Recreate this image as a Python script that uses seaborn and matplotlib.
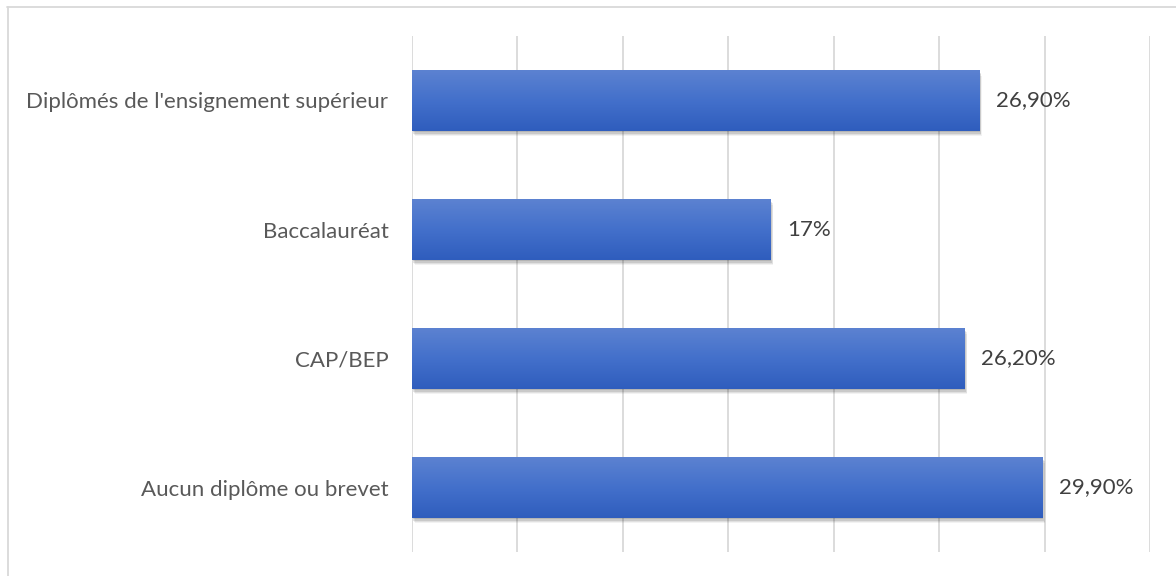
import numpy as np
import pandas as pd
import matplotlib
matplotlib.use("Agg")
import matplotlib.pyplot as plt
import matplotlib.patheffects as pe
from matplotlib.lines import Line2D
import seaborn as sns

# Niveau de diplôme et part correspondante (%)
categories = [
    "Diplômés de l'ensignement supérieur",
    "Baccalauréat",
    "CAP/BEP",
    "Aucun diplôme ou brevet",
]
values = [26.9, 17.0, 26.2, 29.9]
value_labels = ["26,90%", "17%", "26,20%", "29,90%"]

df = pd.DataFrame({"diplome": categories, "part": values})

sns.set_theme(style="white")
plt.rcParams["font.family"] = ["Lato", "DejaVu Sans"]

axis_text_color = "#595959"
value_text_color = "#404040"
grid_color = "#d9d9d9"
font_size = 16

fig = plt.figure(figsize=(11.76, 5.76), dpi=100)
ax = fig.add_axes([412 / 1176, 1 - 552 / 576, (1150 - 412) / 1176, (552 - 36) / 576])

sns.barplot(data=df, x="part", y="diplome", orient="h", color="#4472c4",
            width=0.47, ax=ax, zorder=3)

ax.set_xlim(0, 35)
ax.set_ylim(3.5, -0.5)
ax.set_xticks(np.arange(0, 36, 5))
ax.xaxis.grid(True, color=grid_color, linewidth=1.3, zorder=0)
ax.yaxis.grid(False)
ax.set_xticklabels([])
ax.tick_params(axis="x", length=0)
ax.tick_params(axis="y", length=0, pad=17, labelsize=font_size, labelcolor=axis_text_color)
ax.set_xlabel("")
ax.set_ylabel("")
for s in ax.spines.values():
    s.set_visible(False)

# Ombre portée douce : plusieurs ombres légères superposées
soft_shadow = [
    pe.SimplePatchShadow(offset=(0.5, -1.0), shadow_rgbFace="#000000", alpha=0.10),
    pe.SimplePatchShadow(offset=(1.0, -2.0), shadow_rgbFace="#000000", alpha=0.10),
    pe.SimplePatchShadow(offset=(1.5, -3.0), shadow_rgbFace="#000000", alpha=0.07),
    pe.SimplePatchShadow(offset=(2.0, -4.0), shadow_rgbFace="#000000", alpha=0.05),
    pe.Normal(),
]

# Dégradé vertical dans chaque barre
grad = np.linspace(0, 1, 256).reshape(-1, 1)
cmap = matplotlib.colors.LinearSegmentedColormap.from_list(
    "bleu", ["#5c82d1", "#4370cb", "#2f5dbd"])
for bar, lab in zip(ax.patches, value_labels):
    x0, y0 = bar.get_x(), bar.get_y()
    w, h = bar.get_width(), bar.get_height()
    bar.set_path_effects(soft_shadow)
    bar.set_edgecolor("none")
    im = ax.imshow(grad, cmap=cmap, aspect="auto", extent=(x0, x0 + w, y0 + h, y0),
                   zorder=4, interpolation="bicubic")
    im.set_clip_path(bar)
    ax.annotate(lab, (x0 + w, y0 + h / 2), xytext=(12, 0), textcoords="offset points",
                ha="left", va="center", fontsize=font_size, color=value_text_color)

ax.set_xlim(0, 35)
ax.set_ylim(3.5, -0.5)

# Cadre du graphique
fig.add_artist(Line2D([7 / 1176, 1], [1 - 6.5 / 576] * 2, color=grid_color, lw=1.3))
fig.add_artist(Line2D([7.5 / 1176] * 2, [0, 1 - 6.5 / 576], color=grid_color, lw=1.3))

fig.savefig("out.png", dpi=100, facecolor="white")
